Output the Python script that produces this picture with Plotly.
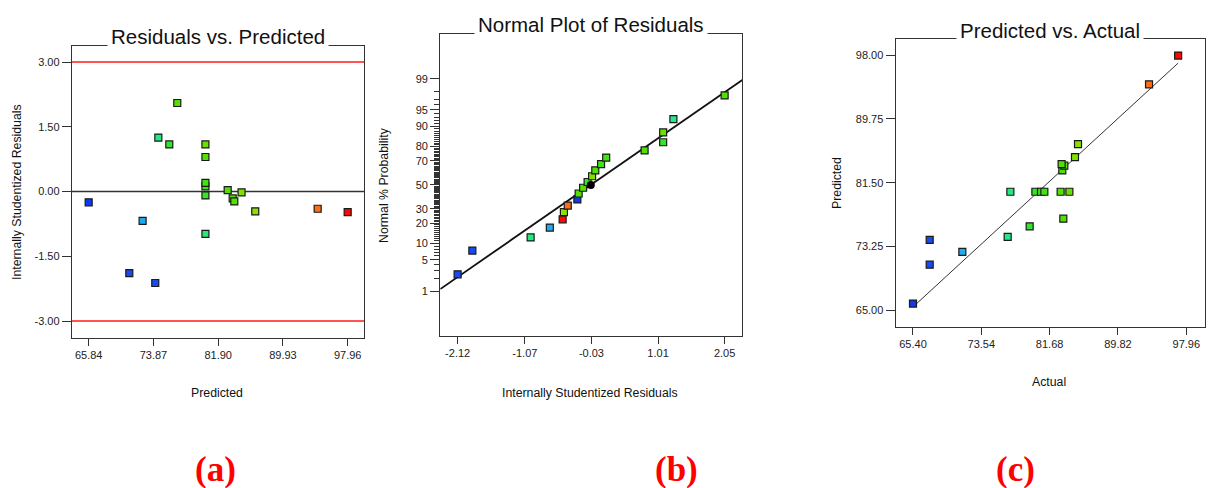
import plotly.graph_objects as go
from statistics import NormalDist

# ---------------- data ----------------
predicted = [65.84, 70.88, 72.53, 74.10, 74.48, 75.84, 76.83, 80.32, 80.32, 80.32,
             80.32, 80.32, 80.32, 83.08, 83.70, 83.90, 84.80, 86.50, 94.24, 97.96]
actual = [65.40, 67.39, 71.28, 67.39, 76.68, 79.30, 83.31, 77.00, 79.98, 80.65,
          81.05, 82.99, 84.03, 83.19, 83.43, 83.11, 84.70, 85.06, 93.52, 96.99]
residuals = [-0.25, -1.89, -0.68, -2.12, 1.25, 1.09, 2.05, -0.98, -0.09, 0.12,
             0.20, 0.80, 1.09, 0.03, -0.16, -0.23, -0.02, -0.46, -0.40, -0.48]
# normal % probability of ranked residuals
normal_pct = [2.5, 7.5, 12.5, 17.5, 22.5, 27.5, 32.5, 37.5, 42.5, 47.5,
              52.5, 57.5, 62.5, 67.5, 72.5, 77.5, 82.5, 87.5, 92.5, 97.5]
# normal-plot reference line (center, spread) and its center marker
line_center = -0.04
line_sd = 1.03

limit_lines = [3.0, -3.0]

a_xticks = [65.84, 73.87, 81.90, 89.93, 97.96]
a_yticks = [-3.0, -1.5, 0.0, 1.5, 3.0]
b_xticks = [-2.12, -1.07, -0.03, 1.01, 2.05]
b_yticks = [1, 5, 10, 20, 30, 50, 70, 80, 90, 95, 99]
b_minor_pct = list(range(1, 100))
c_xticks = [65.40, 73.54, 81.68, 89.82, 97.96]
c_yticks = [65.00, 73.25, 81.50, 89.75, 98.00]

# ---------------- styling ----------------
W, H = 1208, 488
FONT = "Liberation Sans"
AX = "#333333"
colorscale = [
    [0.0, "#1038f0"], [0.08, "#1a50f4"], [0.18, "#20aaf0"], [0.34, "#20ec90"],
    [0.42, "#30e430"], [0.48, "#40e412"], [0.55, "#52e000"], [0.60, "#88e000"],
    [0.70, "#d8d800"], [0.80, "#ffa800"], [0.86, "#ff7018"], [0.92, "#ff4010"],
    [0.96, "#ff0a03"], [1.0, "#ff0000"],
]
# colour scale spans the actual-value axis range
cmin, cmax = c_xticks[0], c_xticks[-1]

inv = NormalDist().inv_cdf


def px_dom_x(l, r):
    return [l / W, r / W]


def px_dom_y(t, b):
    return [1 - b / H, 1 - t / H]


def marker(vals):
    return dict(symbol="square", size=7, color=vals, colorscale=colorscale,
                cmin=cmin, cmax=cmax, line=dict(color="#1a1a1a", width=1.2))


fig = go.Figure()

# ---- (a) residuals vs predicted
xa = [63.773, 99.985]
for v in limit_lines:
    fig.add_trace(go.Scatter(x=xa, y=[v, v], mode="lines",
                             line=dict(color="#ff1a1a", width=1.3),
                             xaxis="x", yaxis="y", hoverinfo="skip"))
fig.add_trace(go.Scatter(x=xa, y=[0, 0], mode="lines",
                         line=dict(color="#333333", width=1.6),
                         xaxis="x", yaxis="y", hoverinfo="skip"))
fig.add_trace(go.Scatter(x=predicted, y=residuals, mode="markers",
                         marker=marker(actual), xaxis="x", yaxis="y"))

# ---- (b) normal plot of residuals
order = sorted(range(len(residuals)), key=lambda i: residuals[i])
res_sorted = [residuals[i] for i in order]
act_sorted = [actual[i] for i in order]
z_pts = [inv(p / 100) for p in normal_pct]
xb = [-2.3907, 2.326]
fig.add_trace(go.Scatter(x=xb, y=[(v - line_center) / line_sd for v in xb],
                         mode="lines", line=dict(color="#111111", width=1.8),
                         xaxis="x2", yaxis="y2", hoverinfo="skip"))
fig.add_trace(go.Scatter(x=res_sorted, y=z_pts, mode="markers",
                         marker=marker(act_sorted), xaxis="x2", yaxis="y2"))
fig.add_trace(go.Scatter(x=[line_center], y=[0.0], mode="markers",
                         marker=dict(symbol="circle", size=8, color="#000000"),
                         xaxis="x2", yaxis="y2"))

# ---- (c) predicted vs actual
fig.add_trace(go.Scatter(x=[min(actual), max(actual)], y=[min(actual), max(actual)],
                         mode="lines", line=dict(color="#333333", width=1),
                         xaxis="x3", yaxis="y3", hoverinfo="skip"))
fig.add_trace(go.Scatter(x=actual, y=predicted, mode="markers",
                         marker=marker(actual), xaxis="x3", yaxis="y3"))


def axis(domain, rng, tickvals, ticktext, anchor, ticklen=8):
    return dict(domain=domain, range=rng, tickmode="array", tickvals=tickvals,
                ticktext=ticktext, ticks="outside", ticklen=ticklen,
                tickwidth=1.2, tickcolor=AX, showline=True, mirror=True,
                linecolor=AX, linewidth=1.4, showgrid=False, zeroline=False,
                anchor=anchor, tickfont=dict(family=FONT, size=11, color="#222222"))


fig.update_layout(
    width=W, height=H, margin=dict(l=0, r=0, t=0, b=0),
    paper_bgcolor="white", plot_bgcolor="white", showlegend=False,
    xaxis=axis(px_dom_x(72, 364), xa, a_xticks, [f"{v:.2f}" for v in a_xticks], "y", 7),
    yaxis=axis(px_dom_y(45.7, 337.7), [-3.387, 3.378], a_yticks,
               [f"{v:.2f}" for v in a_yticks], "x", 9),
    xaxis2=axis(px_dom_x(440.3, 742.3), xb, b_xticks, [f"{v:.2f}" for v in b_xticks], "y2", 7),
    yaxis2=axis(px_dom_y(33.7, 335.7), [-3.305, 3.313], [inv(p / 100) for p in b_yticks],
                [str(p) for p in b_yticks], "x2", 9),
    xaxis3=axis(px_dom_x(895.7, 1205), [63.34, 100.19], c_xticks,
                [f"{v:.2f}" for v in c_xticks], "y3", 7),
    yaxis3=axis(px_dom_y(39, 326.7), [62.84, 100.11], c_yticks,
                [f"{v:.2f}" for v in c_yticks], "x3", 9),
)
fig.update_layout(yaxis2_minor=dict(tickmode="array",
                                    tickvals=[inv(p / 100) for p in b_minor_pct],
                                    ticks="outside", ticklen=5, tickwidth=0.8,
                                    tickcolor=AX, showgrid=False))

ann = []


def text(x, y, s, size, angle=0, color="#111111", family=FONT, bg=None, pad=0):
    d = dict(x=x / W, y=1 - y / H, xref="paper", yref="paper", text=s,
             showarrow=False, textangle=angle, xanchor="center", yanchor="middle",
             font=dict(family=family, size=size, color=color))
    if bg:
        d.update(bgcolor=bg, borderpad=pad)
    ann.append(d)


# titles (white box interrupts the top frame line)
text(218, 36.5, "Residuals vs. Predicted", 20.5, bg="white", pad=3)
text(591, 24.5, "Normal Plot of Residuals", 20.5, bg="white", pad=3)
text(1050, 30, "Predicted vs. Actual", 20.5, bg="white", pad=3)
# axis titles
text(217, 393, "Predicted", 12.3)
text(17, 192, "Internally Studentized Residuals", 12.3, angle=-90)
text(590, 393, "Internally Studentized Residuals", 12.3)
text(384, 185, "Normal % Probability", 12.3, angle=-90)
text(1049, 382, "Actual", 12.3)
text(837, 183, "Predicted", 12.3, angle=-90)
# panel labels
lab_font = "Liberation Serif"
text(215, 469, "<b>(a)</b>", 35, color="#ff0000", family=lab_font)
text(677, 469, "<b>(b)</b>", 35, color="#ff0000", family=lab_font)
text(1015, 469, "<b>(c)</b>", 35, color="#ff0000", family=lab_font)

fig.update_layout(annotations=ann)
fig.write_html("out.html")
